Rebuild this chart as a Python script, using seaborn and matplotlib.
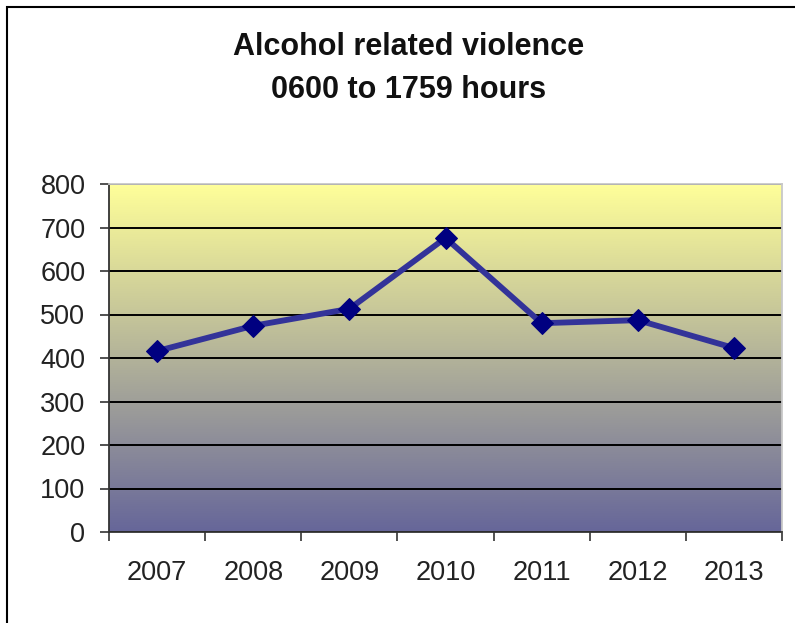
import numpy as np
import pandas as pd
import matplotlib
matplotlib.use("Agg")
import matplotlib.pyplot as plt
from matplotlib.colors import LinearSegmentedColormap
from matplotlib.patches import Rectangle
import seaborn as sns

years = ["2007", "2008", "2009", "2010", "2011", "2012", "2013"]
incidents = [416, 474, 513, 676, 480, 487, 423]
y_ticks = [0, 100, 200, 300, 400, 500, 600, 700, 800]

df = pd.DataFrame({"pos": np.arange(len(years)), "incidents": incidents})

sns.set_theme(style="white")
plt.rcParams["font.family"] = ["Liberation Sans", "DejaVu Sans"]

W, H = 795, 623
fig = plt.figure(figsize=(W / 100, H / 100), dpi=100)
fig.patch.set_facecolor("white")
ax = fig.add_axes([109 / W, 1 - 532 / H, (782 - 109) / W, (532 - 184) / H])

# vertical yellow-to-slate gradient behind the plot area
cmap = LinearSegmentedColormap.from_list("bg", ["#666699", "#FFFF99"])
grad = np.linspace(0, 1, 256).reshape(-1, 1)
ax.imshow(grad, extent=[0, 1, 0, 1], transform=ax.transAxes, aspect="auto",
          cmap=cmap, origin="lower", zorder=0)

sns.lineplot(data=df, x="pos", y="incidents", ax=ax, color="#333399",
             linewidth=4.2, marker="D", markersize=11, markerfacecolor="#000080",
             markeredgecolor="#000080", zorder=3)

ax.set_xlim(-0.5, len(years) - 0.5)
ax.set_ylim(0, 800)
ax.set_yticks(y_ticks)
ax.set_yticklabels([str(v) for v in y_ticks])
ax.yaxis.grid(True, color="black", linewidth=1.4)
for line in ax.get_ygridlines():
    line.set_zorder(1)

# category boundaries carry tick marks, labels sit between them
ax.set_xticks(np.arange(-0.5, len(years), 1.0))
ax.set_xticklabels([])
ax.set_xticks(np.arange(len(years)), minor=True)
ax.set_xticklabels(years, minor=True)
ax.tick_params(axis="x", which="major", length=6.5, width=1.2, color="#333333",
               direction="out", bottom=True)
ax.tick_params(axis="x", which="minor", length=0, pad=20, labelsize=19.5,
               labelcolor="#222222")
ax.tick_params(axis="y", length=6.5, width=1.2, color="#333333", direction="out",
               left=True, labelsize=19.5, labelcolor="#222222", pad=10.5)
ax.set_xlabel("")
ax.set_ylabel("")

for side in ["left", "bottom"]:
    ax.spines[side].set_color("#333333")
    ax.spines[side].set_linewidth(1.3)
for side in ["top", "right"]:
    ax.spines[side].set_color("#c8c8c8")
    ax.spines[side].set_linewidth(1.3)

fig.text(409 / W, 1 - 55 / H, "Alcohol related violence", ha="center", va="baseline",
         fontsize=22, fontweight="bold", color="#111111")
fig.text(409 / W, 1 - 98 / H, "0600 to 1759 hours", ha="center", va="baseline",
         fontsize=22, fontweight="bold", color="#111111")

# chart frame
fig.patches.append(Rectangle((7 / W, -0.05), 1.0, 1 - 7 / H + 0.05, transform=fig.transFigure,
                             fill=False, edgecolor="black", linewidth=1.5))

fig.savefig("out.png", dpi=100)
